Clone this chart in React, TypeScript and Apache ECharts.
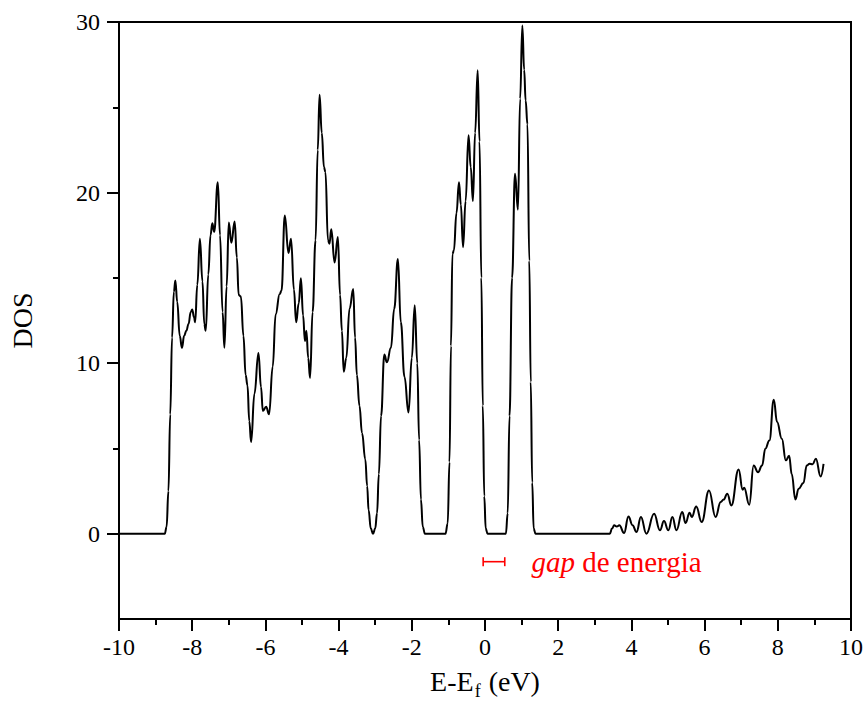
import React, { useEffect, useRef } from 'react';
import * as echarts from 'echarts';

// Energy relative to the Fermi level (eV)
const energy: number[] = [
  -10, -8.75, -8.7, -8.65, -8.6, -8.55, -8.5, -8.46, -8.41, -8.34, -8.28, -8.22, -8.16, -8.1, -8.04, -8.0,
  -7.95, -7.92, -7.86, -7.79, -7.72, -7.67, -7.63, -7.56, -7.5, -7.45, -7.4, -7.3, -7.24, -7.17, -7.12,
  -7.06, -7.0, -6.93, -6.84, -6.78, -6.73, -6.67, -6.6, -6.54, -6.49, -6.44, -6.39, -6.3, -6.19, -6.12,
  -6.07, -5.98, -5.9, -5.8, -5.72, -5.61, -5.56, -5.47, -5.37, -5.3, -5.22, -5.16, -5.09, -5.03, -4.97,
  -4.92, -4.88, -4.83, -4.78, -4.71, -4.63, -4.57, -4.52, -4.46, -4.4, -4.36, -4.29, -4.25, -4.2, -4.11,
  -4.02, -3.96, -3.91, -3.86, -3.79, -3.7, -3.6, -3.55, -3.5, -3.43, -3.36, -3.27, -3.22, -3.18, -3.12,
  -3.06, -3.0, -2.95, -2.9, -2.84, -2.75, -2.68, -2.57, -2.48, -2.38, -2.3, -2.2, -2.09, -2.0, -1.92,
  -1.85, -1.8, -1.75, -1.7, -1.64, -1.08, -1.02, -0.97, -0.93, -0.89, -0.85, -0.78, -0.71, -0.66, -0.6,
  -0.53, -0.45, -0.39, -0.33, -0.27, -0.2, -0.15, -0.1, -0.06, -0.02, 0.02, 0.07, 0.57, 0.62, 0.67, 0.74,
  0.82, 0.9, 0.96, 1.02, 1.07, 1.11, 1.16, 1.21, 1.25, 1.29, 1.33, 1.38, 3.41, 3.47, 3.53, 3.6, 3.67,
  3.8, 3.92, 4.03, 4.14, 4.26, 4.41, 4.62, 4.78, 4.89, 5.01, 5.12, 5.23, 5.39, 5.48, 5.59, 5.65, 5.77,
  5.92, 6.12, 6.3, 6.44, 6.52, 6.62, 6.73, 6.93, 7.04, 7.08, 7.22, 7.34, 7.46, 7.57, 7.66, 7.77, 7.89,
  7.98, 8.11, 8.22, 8.31, 8.38, 8.48, 8.57, 8.7, 8.79, 8.87, 8.95, 9.04, 9.17, 9.25,
];

// Density of states
const dos: number[] = [
  0, 0, 0.4, 2.5, 7, 11.5, 14.2, 14.85, 13.6, 11.6, 10.9, 11.6, 11.9, 12.3, 13.0, 13.15,
  12.7, 12.4, 14.6, 17.3, 14.8, 12.3, 11.9, 15.2, 17.5, 18.2, 17.7, 20.6, 17.5, 13, 10.9,
  14.5, 18.25, 17.06, 18.3, 16.2, 14.0, 13.9, 11.6, 9.3, 8.7, 6.6, 5.37, 8.2, 10.6, 8.6,
  7.2, 7.45, 7.0, 9.8, 12.86, 14.05, 14.25, 18.65, 16.46, 17.3, 14.3, 12.4, 13.5, 14.97, 12.8,
  11.3, 11.9, 10.3, 9.13, 13, 17.2, 22.5, 25.74, 23.5, 21.5, 21.2, 17.2, 17.0, 17.85, 15.9,
  17.4, 14, 11.9, 9.5, 10.3, 13.2, 14.35, 11.5, 9.3, 7.5, 5.9, 4.35, 2.8, 1.37, 0.3,
  0, 0.3, 1.2, 3.5, 6.9, 10.5, 10.05, 10.9, 13.2, 16.1, 12.4, 9.2, 7.1, 10.3, 13.4,
  10, 5.5, 2, 0.4, 0, 0, 0.6, 4.2, 11, 16.4, 16.6, 18.8, 20.6, 19.3, 16.8,
  19.5, 23.36, 21.5, 19.5, 23.5, 27.17, 23, 15, 7.5, 2.2, 0.3, 0, 0, 1.2, 6.9, 15,
  21.1, 19.0, 25.5, 29.8, 27.2, 25.4, 24, 16, 8.9, 3, 0.3, 0, 0, 0.3, 0.49, 0.42, 0.49,
  0.04, 1.01, 0.5, 0.1, 0.98, 0, 1.17, 0.2, 0.74, 0.2, 0.98, 0.2, 1.27, 0.63, 1.23, 0.98, 1.6,
  0.68, 2.54, 0.98, 1.86, 2.0, 2.35, 1.66, 3.77, 2.58, 2.7, 1.7, 4.0, 3.6, 4.0, 4.98, 5.47, 7.86,
  6.55, 5.57, 4.3, 4.57, 3.5, 2.01, 2.64, 2.97, 4.0, 4.1, 4.07, 4.4, 3.36, 4.1,
];

// Y-axis ticks
const yMajorTicks: number[] = [0, 10, 20, 30];
const yMinorTicks: number[] = [5, 15, 25];

// Energy-gap annotation (eV, DOS units)
const gapEdges: number[] = [-0.05, 0.54];
const gapLevel = -1.64;
const gapLabelStart = 1.27;
const gapLabelItalic = 'gap';
const gapLabelRest = ' de energia';

const FONT = 'Liberation Serif';

export default function App() {
  const ref = useRef<HTMLDivElement>(null);

  useEffect(() => {
    if (!ref.current) return;
    const chart = echarts.init(ref.current, null, { renderer: 'svg' });
    const seriesData = energy.map((e, i) => [e, dos[i]]);

    const option: any = {
      animation: false,
      backgroundColor: '#ffffff',
      grid: {
        left: 118,
        right: 13,
        top: 22,
        bottom: 95,
        show: true,
        borderColor: '#000',
        borderWidth: 2,
        backgroundColor: 'transparent',
      },
      xAxis: {
        type: 'value',
        min: -10,
        max: 10,
        interval: 2,
        name: '{m|E-E}{s|f}{m| (eV)}',
        nameLocation: 'middle',
        nameGap: 47,
        nameTextStyle: {
          rich: {
            m: { fontFamily: FONT, fontSize: 28, color: '#000', lineHeight: 28, verticalAlign: 'top' },
            s: { fontFamily: FONT, fontSize: 18, color: '#000', lineHeight: 18, padding: [18, 1, 0, 1] },
          },
        },
        axisLine: { onZero: false, lineStyle: { color: '#000', width: 2 } },
        axisTick: { inside: false, length: 12, lineStyle: { color: '#000', width: 2 } },
        minorTick: { show: true, splitNumber: 2, length: 6, lineStyle: { color: '#000', width: 2 } },
        splitLine: { show: false },
        minorSplitLine: { show: false },
        axisLabel: { fontFamily: FONT, fontSize: 24, color: '#000', margin: 16 },
      },
      yAxis: [
        {
          type: 'value',
          min: -5,
          max: 30,
          interval: 5,
          position: 'left',
          name: 'DOS',
          nameLocation: 'middle',
          nameGap: 83,
          nameTextStyle: { fontFamily: FONT, fontSize: 28, color: '#000' },
          axisLine: { show: true, onZero: false, lineStyle: { color: '#000', width: 2 } },
          axisTick: { show: true, inside: false, length: 12, customValues: yMajorTicks, lineStyle: { color: '#000', width: 2 } },
          axisLabel: { fontFamily: FONT, fontSize: 24, color: '#000', margin: 19, customValues: yMajorTicks },
          splitLine: { show: false },
        },
        {
          type: 'value',
          min: -5,
          max: 30,
          interval: 5,
          position: 'left',
          axisLine: { show: false, onZero: false },
          axisTick: { show: true, inside: false, length: 6, customValues: yMinorTicks, lineStyle: { color: '#000', width: 2 } },
          axisLabel: { show: false },
          splitLine: { show: false },
        },
      ],
      series: [
        {
          type: 'line',
          data: seriesData,
          showSymbol: false,
          symbol: 'none',
          smooth: 0.45,
          smoothMonotone: 'x',
          lineStyle: { color: '#000', width: 2 },
          z: 3,
        },
        {
          type: 'custom',
          silent: true,
          z: 5,
          data: [[gapEdges[0], gapEdges[1], gapLevel, gapLabelStart]],
          encode: { x: [0, 1, 3], y: 2 },
          renderItem: (params: any, api: any) => {
            const p0 = api.coord([api.value(0), api.value(2)]);
            const p1 = api.coord([api.value(1), api.value(2)]);
            const pt = api.coord([api.value(3), api.value(2)]);
            const h = 4.5;
            const style = { stroke: '#ff0000', lineWidth: 1.6 };
            return {
              type: 'group',
              children: [
                { type: 'line', shape: { x1: p0[0], y1: p0[1], x2: p1[0], y2: p1[1] }, style },
                { type: 'line', shape: { x1: p0[0], y1: p0[1] - h, x2: p0[0], y2: p0[1] + h }, style },
                { type: 'line', shape: { x1: p1[0], y1: p1[1] - h, x2: p1[0], y2: p1[1] + h }, style },
                {
                  type: 'text',
                  x: pt[0],
                  y: pt[1],
                  style: {
                    text: '{i|' + gapLabelItalic + '}{n|' + gapLabelRest + '}',
                    fill: '#ff0000',
                    fontFamily: FONT,
                    fontSize: 29,
                    align: 'left',
                    verticalAlign: 'middle',
                    rich: {
                      i: { fontFamily: FONT, fontSize: 29, fontStyle: 'italic', fill: '#ff0000' },
                      n: { fontFamily: FONT, fontSize: 29, fill: '#ff0000' },
                    },
                  },
                },
              ],
            };
          },
        },
      ],
    };

    chart.setOption(option);
    return () => chart.dispose();
  }, []);

  return (
    <div
      ref={ref}
      style={{ position: 'fixed', left: 0, top: 0, width: 866, height: 714, background: '#fff' }}
    />
  );
}
